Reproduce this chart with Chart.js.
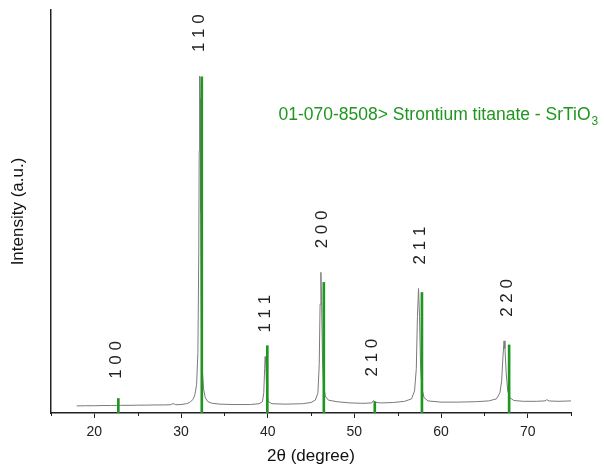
<!DOCTYPE html>
<html>
<head>
<meta charset="utf-8">
<script src="https://cdn.jsdelivr.net/npm/chart.js@4.4.1/dist/chart.umd.min.js"></script>
<style>
  html, body { margin: 0; padding: 0; background: #fff; }
</style>
</head>
<body>
<canvas id="myChart" width="604" height="467"></canvas>
<script>
// measured XRD profile (2theta in degrees, intensity in arbitrary units)
var twoTheta = [
  17.97, 19, 20, 21, 22, 23, 24, 25, 26, 27, 28, 28.8, 29.1, 29.4, 30, 30.6,
  31.0, 31.4, 31.6, 31.8, 31.95, 32.05, 32.1, 32.15, 32.2, 32.28, 32.36, 32.45,
  32.6, 32.8, 33.1, 33.6, 34.5, 36, 38, 39, 39.4, 39.55, 39.65, 39.71, 39.78,
  39.86, 39.95, 40.1, 40.5, 42, 44, 45, 45.5, 45.8, 45.95, 46.05, 46.14, 46.22,
  46.32, 46.45, 46.65, 47, 48, 49.5, 51, 52.0, 52.2, 52.35, 53, 54.5, 55.8,
  56.6, 56.95, 57.15, 57.28, 57.41, 57.52, 57.64, 57.8, 58.05, 58.5, 60, 62,
  64, 65.5, 66.4, 66.8, 67.0, 67.15, 67.27, 67.38, 67.52, 67.7, 67.95, 68.4,
  69.5, 71, 72, 72.2, 72.45, 73.5, 75
];
var intensity = [
  1.75, 1.8, 1.8, 1.85, 1.85, 1.9, 1.9, 1.95, 1.95, 2.0, 2.0, 2.05, 2.35, 2.05, 2.1, 2.3,
  2.6, 3.4, 4.5, 7, 15, 40, 65, 83.6, 78, 50, 22, 11,
  6, 3.8, 2.8, 2.4, 2.2, 2.1, 2.1, 2.3, 2.8, 5, 11, 14, 12.5,
  7, 4, 2.8, 2.3, 2.2, 2.3, 2.6, 3.2, 5, 12, 27, 34.9, 28,
  14, 7, 4.2, 3.2, 2.8, 2.5, 2.4, 2.5, 3.1, 2.7, 2.5, 2.6, 2.9,
  3.5, 5.5, 11, 24, 30.9, 24, 12, 6, 3.8, 3.0, 2.7, 2.7,
  2.8, 3.0, 3.5, 5, 8, 14, 17.9, 16, 10, 5.5, 3.8, 3.1,
  2.9, 2.9, 3.0, 3.3, 3.0, 2.9, 3.0
];

// reference card 01-070-8508 (SrTiO3)
var refPos = [22.77, 32.40, 39.96, 46.48, 52.36, 57.80, 67.86];
var refInt = [3.6, 83.4, 16.7, 32.4, 2.8, 29.9, 16.9];
var hkl = ['1 0 0', '1 1 0', '1 1 1', '2 0 0', '2 1 0', '2 1 1', '2 2 0'];

var cardText = '01-070-8508> Strontium titanate - SrTiO';
var cardSub = '3';

var green = '#1f961f';
var fontFam = '"Liberation Sans", Arial, sans-serif';

var profile = [];
for (var i = 0; i < twoTheta.length; i++) {
  profile.push({ x: twoTheta[i], y: intensity[i] });
}
var sticks = [];
for (var j = 0; j < refPos.length; j++) {
  sticks.push({ x: refPos[j], y: refInt[j] });
}

function peakMax(t) {
  var m = 0;
  for (var k = 0; k < twoTheta.length; k++) {
    if (Math.abs(twoTheta[k] - t) < 0.8 && intensity[k] > m) m = intensity[k];
  }
  return m;
}

var extras = {
  id: 'extras',
  afterDatasetsDraw: function(chart) {
    var ctx = chart.ctx;
    var xs = chart.scales.x, ys = chart.scales.y;
    var bottom = chart.chartArea.bottom;
    ctx.save();

    // minor ticks
    ctx.strokeStyle = '#222';
    ctx.lineWidth = 1;
    for (var v = 15; v <= 75; v += 5) {
      if (v % 10 === 0) continue;
      var px = Math.round(xs.getPixelForValue(v)) + 0.5;
      ctx.beginPath();
      ctx.moveTo(px, bottom);
      ctx.lineTo(px, bottom + 3);
      ctx.stroke();
    }

    // hkl labels
    ctx.font = '17px ' + fontFam;
    ctx.fillStyle = '#222';
    ctx.textAlign = 'left';
    ctx.textBaseline = 'middle';
    for (var i = 0; i < hkl.length; i++) {
      var x = xs.getPixelForValue(refPos[i]) - 2;
      var top = Math.max(peakMax(refPos[i]), refInt[i] * 0.7);
      var y = ys.getPixelForValue(top) - 24;
      ctx.save();
      ctx.translate(x, y);
      ctx.rotate(-Math.PI / 2);
      ctx.fillText(hkl[i], 0, 0);
      ctx.restore();
    }

    // reference card caption
    var cx = xs.getPixelForValue(41.25);
    var cy = ys.getPixelForValue(72.7);
    ctx.fillStyle = green;
    ctx.textBaseline = 'alphabetic';
    ctx.font = '17.5px ' + fontFam;
    ctx.fillText(cardText, cx, cy);
    var w = ctx.measureText(cardText).width;
    ctx.font = '12px ' + fontFam;
    ctx.fillText(cardSub, cx + w + 1, cy + 5);

    ctx.restore();
  }
};

var ctx = document.getElementById('myChart').getContext('2d');
var myChart = new Chart(ctx, {
  type: 'line',
  data: {
    datasets: [
      {
        type: 'bar',
        data: sticks,
        backgroundColor: green,
        borderWidth: 0,
        barThickness: 2,
        order: 0
      },
      {
        type: 'line',
        data: profile,
        borderColor: '#7a7a7a',
        borderWidth: 1,
        pointRadius: 0,
        tension: 0,
        fill: false,
        order: 1
      }
    ]
  },
  options: {
    responsive: false,
    animation: false,
    devicePixelRatio: 1,
    layout: { padding: { left: 8, right: 33, top: 10, bottom: 0 } },
    plugins: {
      legend: { display: false },
      tooltip: { enabled: false }
    },
    scales: {
      x: {
        type: 'linear',
        min: 15,
        max: 75,
        offset: false,
        afterFit: function(s) { s.height = 54; },
        border: { display: true, color: '#222', width: 1.5 },
        grid: {
          offset: false,
          drawOnChartArea: false,
          drawTicks: true,
          tickLength: 5,
          color: function(c) {
            return (c.tick && c.tick.value % 10 === 0) ? '#222' : 'rgba(0,0,0,0)';
          }
        },
        ticks: {
          stepSize: 5,
          padding: 6,
          color: '#222',
          font: { size: 14, family: fontFam },
          maxRotation: 0,
          callback: function(v) { return (v % 10 === 0) ? v : ''; }
        },
        title: {
          display: true,
          text: '2θ (degree)',
          color: '#111',
          padding: 0,
          font: { size: 17, family: fontFam }
        }
      },
      y: {
        min: 0,
        max: 100,
        afterFit: function(s) { s.width = 43; },
        border: { display: true, color: '#222', width: 1.5 },
        grid: { display: false },
        ticks: { display: false },
        title: {
          display: true,
          text: 'Intensity (a.u.)',
          color: '#111',
          padding: 0,
          font: { size: 17, family: fontFam }
        }
      }
    }
  },
  plugins: [extras]
});
</script>
</body>
</html>
